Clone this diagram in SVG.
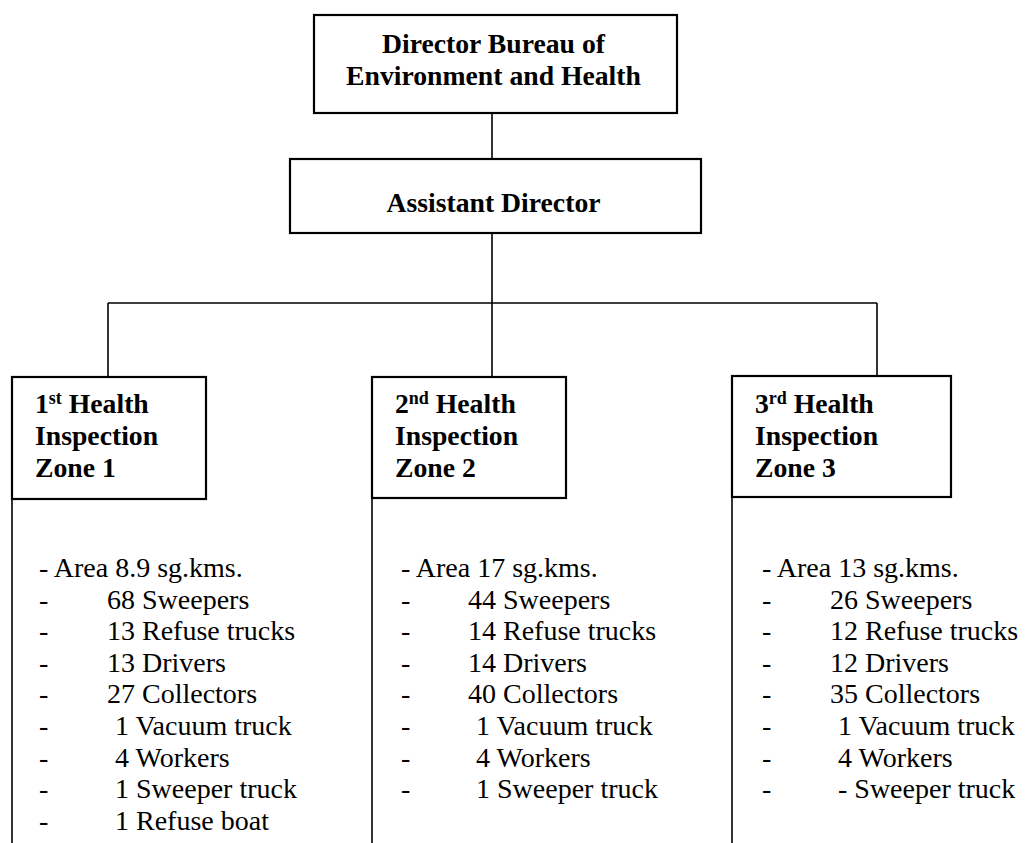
<svg xmlns="http://www.w3.org/2000/svg" width="1025" height="843" viewBox="0 0 1025 843">
<style>
.box{fill:#fff;stroke:#000;stroke-width:2.2}
.ln{fill:none;stroke:#000;stroke-width:1.6}
text{font-family:'Liberation Serif','Times New Roman',Times,'DejaVu Serif',serif;fill:#000}
.h{font-weight:bold;font-size:27.7px}
.b text{font-size:28px}
.sup{font-size:18px}
</style>
<g id="connectors">
<path class="ln" d="M492 113V159M492 233V303M108 303H877M108 303V377M492 303V377M877 303V376"/>
<path class="ln" d="M12 499V843M372 498V843M732 497V843"/>
</g>
<g id="director">
<rect class="box" x="314" y="15" width="363" height="98"/>
<text class="h" x="493.5" y="53" text-anchor="middle">Director Bureau of</text>
<text class="h" x="493.5" y="85" text-anchor="middle">Environment and Health</text>
</g>
<g id="assistant">
<rect class="box" x="290" y="159" width="411" height="74"/>
<text class="h" x="493.5" y="212" text-anchor="middle">Assistant Director</text>
</g>
<g id="zone1">
<rect class="box" x="12" y="377" width="194" height="122"/>
<text class="h" x="35" y="413">1<tspan class="sup" dy="-9">st</tspan><tspan dy="9"> Health</tspan></text>
<text class="h" x="35" y="445">Inspection</text>
<text class="h" x="35" y="477">Zone 1</text>
<g class="b">
<text x="39" y="577">- Area 8.9 sg.kms.</text>
<text x="39" y="608.6">-</text><text x="107" y="608.6">68 Sweepers</text>
<text x="39" y="640.2">-</text><text x="107" y="640.2">13 Refuse trucks</text>
<text x="39" y="671.8">-</text><text x="107" y="671.8">13 Drivers</text>
<text x="39" y="703.4">-</text><text x="107" y="703.4">27 Collectors</text>
<text x="39" y="735">-</text><text x="115" y="735">1 Vacuum truck</text>
<text x="39" y="766.6">-</text><text x="115" y="766.6">4 Workers</text>
<text x="39" y="798.2">-</text><text x="115" y="798.2">1 Sweeper truck</text>
<text x="39" y="829.8">-</text><text x="115" y="829.8">1 Refuse boat</text>
</g>
</g>
<g id="zone2">
<rect class="box" x="372" y="377" width="194" height="121"/>
<text class="h" x="395" y="413">2<tspan class="sup" dy="-9">nd</tspan><tspan dy="9"> Health</tspan></text>
<text class="h" x="395" y="445">Inspection</text>
<text class="h" x="395" y="477">Zone 2</text>
<g class="b">
<text x="401" y="577">- Area 17 sg.kms.</text>
<text x="401" y="608.6">-</text><text x="468" y="608.6">44 Sweepers</text>
<text x="401" y="640.2">-</text><text x="468" y="640.2">14 Refuse trucks</text>
<text x="401" y="671.8">-</text><text x="468" y="671.8">14 Drivers</text>
<text x="401" y="703.4">-</text><text x="468" y="703.4">40 Collectors</text>
<text x="401" y="735">-</text><text x="476" y="735">1 Vacuum truck</text>
<text x="401" y="766.6">-</text><text x="476" y="766.6">4 Workers</text>
<text x="401" y="798.2">-</text><text x="476" y="798.2">1 Sweeper truck</text>
</g>
</g>
<g id="zone3">
<rect class="box" x="732" y="376" width="219" height="121"/>
<text class="h" x="755" y="413">3<tspan class="sup" dy="-9">rd</tspan><tspan dy="9"> Health</tspan></text>
<text class="h" x="755" y="445">Inspection</text>
<text class="h" x="755" y="477">Zone 3</text>
<g class="b">
<text x="762" y="577">- Area 13 sg.kms.</text>
<text x="762" y="608.6">-</text><text x="830" y="608.6">26 Sweepers</text>
<text x="762" y="640.2">-</text><text x="830" y="640.2">12 Refuse trucks</text>
<text x="762" y="671.8">-</text><text x="830" y="671.8">12 Drivers</text>
<text x="762" y="703.4">-</text><text x="830" y="703.4">35 Collectors</text>
<text x="762" y="735">-</text><text x="838" y="735">1 Vacuum truck</text>
<text x="762" y="766.6">-</text><text x="838" y="766.6">4 Workers</text>
<text x="762" y="798.2">-</text><text x="838" y="798.2">- Sweeper truck</text>
</g>
</g>
</svg>
